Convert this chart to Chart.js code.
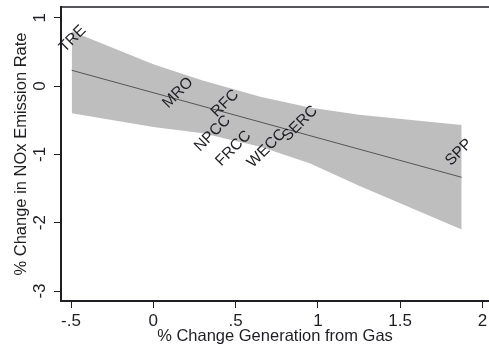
<!DOCTYPE html>
<html>
<head>
<meta charset="utf-8">
<script src="https://cdn.jsdelivr.net/npm/chart.js@4/dist/chart.umd.min.js"></script>
<style>
  html, body { margin: 0; padding: 0; background: #fff; }
  #wrap { width: 489px; height: 351px; }
</style>
</head>
<body>
<div id="wrap"><canvas id="myChart" width="489" height="351"></canvas></div>
<script>
'use strict';

// regions, placed at their (gas change, NOx change) point
const regions = ['TRE', 'MRO', 'RFC', 'NPCC', 'FRCC', 'WECC', 'SERC', 'SPP'];
const regionX = [-0.49, 0.15, 0.436, 0.36, 0.487, 0.688, 0.891, 1.857];
const regionY = [0.69, -0.10, -0.256, -0.695, -0.914, -0.914, -0.549, -0.97];

// fitted line and its confidence band
const fitX = [-0.496, 1.874];
const fitY = [0.23, -1.336];
const bandX = [-0.496, 0.0, 0.3, 0.65, 0.95, 1.25, 1.874];
const bandUpper = [0.80, 0.318, 0.082, -0.159, -0.316, -0.422, -0.57];
const bandLower = [-0.40, -0.60, -0.69, -0.89, -1.13, -1.46, -2.10];

const xTicks = [-0.5, 0, 0.5, 1, 1.5, 2];
const xTickLabels = ['-.5', '0', '.5', '1', '1.5', '2'];
const yTicks = [-3, -2, -1, 0, 1];

const ink = '#1e1e24';
const font = 'Arial, "Liberation Sans", sans-serif';

function pts(xs, ys) {
  return xs.map((x, i) => ({x: x, y: ys[i]}));
}

const regionLabels = {
  id: 'regionLabels',
  afterDatasetsDraw(chart) {
    const ctx = chart.ctx;
    const meta = chart.getDatasetMeta(3);
    ctx.save();
    ctx.font = '15.5px ' + font;
    ctx.fillStyle = ink;
    ctx.textAlign = 'center';
    ctx.textBaseline = 'middle';
    meta.data.forEach((p, i) => {
      ctx.save();
      ctx.translate(p.x, p.y);
      ctx.rotate(-Math.PI / 4);
      ctx.fillText(regions[i], 0, 0);
      ctx.restore();
    });
    ctx.restore();
  }
};

const topFrame = {
  id: 'topFrame',
  afterDraw(chart) {
    const a = chart.chartArea;
    const ctx = chart.ctx;
    ctx.save();
    ctx.strokeStyle = ink;
    ctx.lineWidth = 1.5;
    ctx.beginPath();
    ctx.moveTo(a.left, a.top);
    ctx.lineTo(a.right, a.top);
    ctx.stroke();
    ctx.restore();
  }
};

new Chart(document.getElementById('myChart'), {
  type: 'scatter',
  data: {
    datasets: [
      {
        type: 'line',
        data: pts(bandX, bandUpper),
        borderWidth: 0,
        pointRadius: 0,
        fill: false,
        order: 3
      },
      {
        type: 'line',
        data: pts(bandX, bandLower),
        borderWidth: 0,
        pointRadius: 0,
        backgroundColor: '#bebebe',
        fill: '-1',
        order: 3
      },
      {
        type: 'line',
        data: pts(fitX, fitY),
        borderColor: '#555555',
        borderWidth: 1,
        pointRadius: 0,
        fill: false,
        order: 1
      },
      {
        data: pts(regionX, regionY),
        pointRadius: 0,
        order: 0
      }
    ]
  },
  options: {
    responsive: false,
    animation: false,
    layout: { padding: { top: 7, right: 0, left: 0, bottom: 0 } },
    plugins: {
      legend: { display: false },
      tooltip: { enabled: false }
    },
    scales: {
      x: {
        type: 'linear',
        min: -0.561,
        max: 2.04,
        afterFit: s => { s.height = 50; s.paddingLeft = 0; s.paddingRight = 0; },
        afterBuildTicks: s => { s.ticks = xTicks.map(v => ({value: v})); },
        grid: { drawOnChartArea: false, drawTicks: true, tickLength: 7, color: ink, tickWidth: 1 },
        border: { display: true, color: ink, width: 2 },
        ticks: {
          color: ink,
          font: { family: font, size: 17 },
          padding: 3,
          maxRotation: 0,
          autoSkip: false,
          callback: (v) => xTickLabels[xTicks.indexOf(v)]
        },
        title: {
          display: true,
          text: '% Change Generation from Gas',
          color: ink,
          font: { family: font, size: 16.5 },
          padding: { top: 0, bottom: 5 }
        }
      },
      y: {
        type: 'linear',
        min: -3.146,
        max: 1.156,
        afterFit: s => { s.width = 61; s.paddingTop = 0; s.paddingBottom = 0; },
        afterBuildTicks: s => { s.ticks = yTicks.map(v => ({value: v})); },
        grid: { drawOnChartArea: false, drawTicks: true, tickLength: 7, color: ink, tickWidth: 1 },
        border: { display: true, color: ink, width: 2 },
        ticks: {
          color: ink,
          font: { family: font, size: 17 },
          padding: 6,
          minRotation: 90,
          maxRotation: 90,
          crossAlign: 'center',
          autoSkip: false
        },
        title: {
          display: true,
          text: '% Change in NOx Emission Rate',
          color: ink,
          font: { family: font, size: 16.5 },
          padding: { top: 12, bottom: 0 }
        }
      }
    }
  },
  plugins: [regionLabels, topFrame]
});
</script>
</body>
</html>
